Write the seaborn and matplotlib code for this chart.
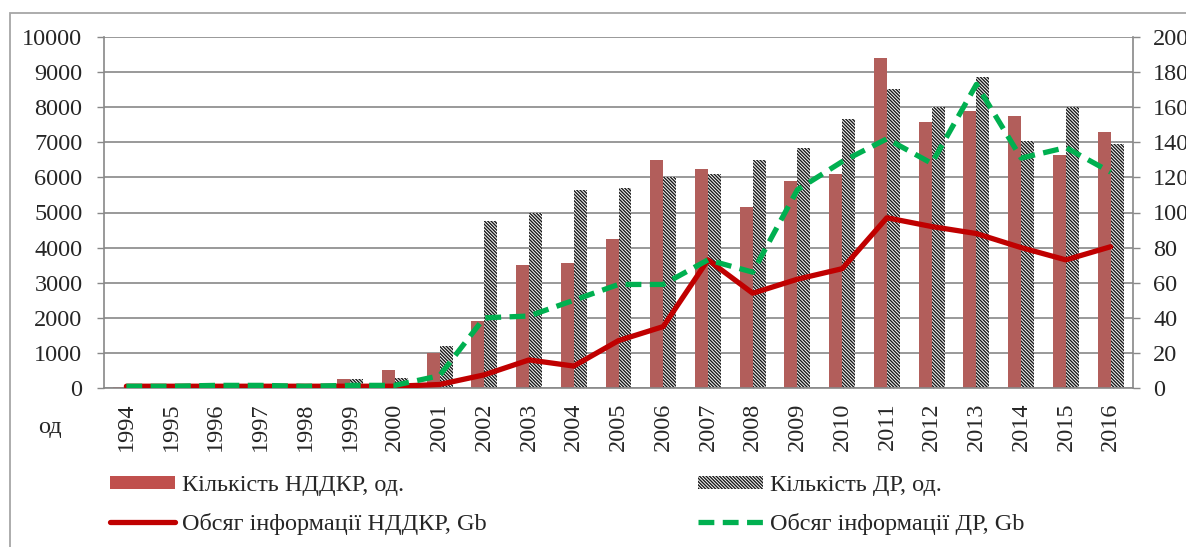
import numpy as np
import pandas as pd
import matplotlib
matplotlib.use("Agg")
import matplotlib.pyplot as plt
import seaborn as sns
from matplotlib.patches import Patch, Rectangle
from matplotlib.lines import Line2D

# ---- data ----
years = [str(y) for y in range(1994, 2017)]
nddkr_count = [30, 0, 0, 0, 0, 250, 500, 1000, 1900, 3500, 3550, 4250, 6500, 6250,
               5150, 5900, 6100, 9400, 7580, 7890, 7750, 6640, 7290]
dr_count = [0, 0, 0, 0, 0, 250, 280, 1200, 4750, 5000, 5650, 5700, 6000, 6100,
            6500, 6850, 7660, 8510, 8000, 8870, 7030, 8010, 6950]
nddkr_gb = [1, 1, 1, 1, 1, 1, 1, 2, 7.5, 16, 12.5, 27, 35, 73,
            54, 62, 68, 97, 92, 88, 80, 73, 80.5]
dr_gb = [1, 1, 1.5, 1.5, 1, 1.5, 1.5, 7, 40, 41, 50, 59, 59, 73,
         66, 113, 129, 142, 128, 173, 131, 137, 123]

lbl_bar1 = "Кількість НДДКР, од."
lbl_bar2 = "Кількість ДР, од."
lbl_line1 = "Обсяг інформації НДДКР, Gb"
lbl_line2 = "Обсяг інформації ДР, Gb"
left_ticks = list(range(0, 10001, 1000))
right_ticks = list(range(0, 201, 20))

RED_BAR = "#C0504D"
RED_LINE = "#C00000"
GREEN = "#00B050"
GRID = "#888888"
HATCH = "\\" * 10

sns.set_theme(style="white")
plt.rcParams["font.family"] = ["Liberation Serif", "DejaVu Serif"]
plt.rcParams["hatch.linewidth"] = 1.0
plt.rcParams["hatch.color"] = "#1a1a1a"
FS = 17.5

df = pd.DataFrame({
    "year": years * 2,
    "value": nddkr_count + dr_count,
    "series": ["n"] * len(years) + ["d"] * len(years),
})

fig = plt.figure(figsize=(11.86, 5.47), dpi=100)
ax = fig.add_axes([104 / 1186, 1 - 388 / 547, (1133 - 104) / 1186, (388 - 37) / 547])

sns.barplot(data=df, x="year", y="value", hue="series", hue_order=["n", "d"],
            palette={"n": RED_BAR, "d": "white"}, width=0.58, ax=ax, legend=False,
            linewidth=0, zorder=2)
for p in ax.containers[1]:
    p.set_hatch(HATCH)
    p.set_edgecolor("#1a1a1a")
    p.set_linewidth(0)

ax.set_ylim(0, 10000)
ax.set_xlim(-0.5, len(years) - 0.5)
ax.set_yticks(left_ticks)
ax.set_yticklabels([str(t) for t in left_ticks], fontsize=FS)
ax.set_xticks(range(len(years)))
ax.set_xticklabels(years, rotation=90, fontsize=FS)
ax.set_xticks(np.arange(-0.5, len(years), 1.0), minor=True)
ax.tick_params(axis="x", which="major", length=0, pad=10.5)
ax.tick_params(axis="x", which="minor", length=5, width=1, color=GRID, direction="out")
ax.tick_params(axis="y", length=5, width=1, color=GRID, direction="out", pad=10.5, left=True)
ax.set_xlabel("")
ax.set_ylabel("")
ax.yaxis.grid(True, color=GRID, linewidth=1.2, zorder=0)
ax.xaxis.grid(False)
ax.set_axisbelow(True)
for s in ["left", "right", "bottom"]:
    ax.spines[s].set_color(GRID)
    ax.spines[s].set_linewidth(1.2)
ax.spines["top"].set_visible(False)

ax2 = ax.twinx()
idx = np.arange(len(years))
sns.lineplot(x=idx, y=nddkr_gb, ax=ax2, color=RED_LINE, linewidth=3.8, legend=False, zorder=3)
sns.lineplot(x=idx, y=dr_gb, ax=ax2, color=GREEN, linewidth=3.8, linestyle=(0, (3, 1.6)),
             legend=False, zorder=4)
ax2.set_ylim(0, 200)
ax2.set_xlim(-0.5, len(years) - 0.5)
ax2.set_yticks(right_ticks)
ax2.set_yticklabels([str(t) for t in right_ticks], fontsize=FS)
ax2.tick_params(axis="y", length=5, width=1, color=GRID, direction="out", pad=9.5, right=True)
ax2.set_ylabel("")
ax2.set_xlabel("")
ax2.grid(False)
for s in ["left", "right", "bottom", "top"]:
    ax2.spines[s].set_visible(False)

fig.text(50 / 1186, 1 - 428 / 547, "од", fontsize=FS, ha="center", va="center")

h_bar1 = Patch(facecolor=RED_BAR, edgecolor="none")
h_bar2 = Patch(facecolor="white", edgecolor="#1a1a1a", hatch=HATCH, linewidth=0)
h_line1 = Line2D([], [], color=RED_LINE, linewidth=3.8)
h_line2 = Line2D([], [], color=GREEN, linewidth=3.8, linestyle=(0, (3, 1.6)))

common = dict(frameon=False, fontsize=FS, borderpad=0, borderaxespad=0,
              handlelength=2.67, handletextpad=0.3, handleheight=0.45, labelspacing=0.7,
              loc="upper left")
leg1 = fig.legend([h_bar1, h_line1], [lbl_bar1, lbl_line1],
                  bbox_to_anchor=(110 / 1186, 1 - 475 / 547), **common)
leg2 = fig.legend([h_bar2, h_line2], [lbl_bar2, lbl_line2],
                  bbox_to_anchor=(698 / 1186, 1 - 475 / 547), **common)

fig.add_artist(Rectangle((10 / 1186, -0.1), 1.2, 1.1 - 13 / 547, transform=fig.transFigure,
                         fill=False, edgecolor="#A6A6A6", linewidth=1.3, clip_on=False))

fig.savefig("out.png", dpi=100)
